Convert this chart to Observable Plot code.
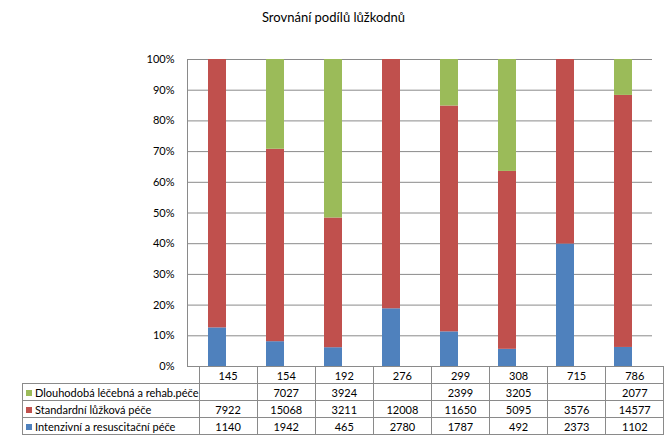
<!DOCTYPE html>
<html><head><meta charset="utf-8">
<script src="https://cdn.jsdelivr.net/npm/d3@7"></script>
<script src="https://cdn.jsdelivr.net/npm/@observablehq/plot@0.6"></script>
<style>
body{margin:0;background:#fff;}
#wrap{position:relative;width:667px;height:442px;font-family:Lato,"Open Sans",sans-serif;color:#000;}
#title{position:absolute;left:0;top:9px;width:667px;text-align:center;font-size:13px;}
#chart{position:absolute;left:0;top:40px;}
#tbl{position:absolute;left:22px;top:366px;border-collapse:collapse;font-size:11px;table-layout:fixed;}
#tbl td{border:1px solid #8a8a8a;padding:0;text-align:center;height:16px;line-height:15px;white-space:nowrap;overflow:hidden;}
#tbl td.lab{text-align:left;padding-left:3px;}
#tbl td.blank{border:none;}
.key{display:inline-block;width:6px;height:6px;margin-right:3px;vertical-align:1px;}
</style></head>
<body>
<div id="wrap">
<div id="title">Srovnání podílů lůžkodnů</div>
<div id="chart"></div>
<table id="tbl"></table>
</div>
<script>
const categories = ["145","154","192","276","299","308","715","786"];
const seriesNames = ["Intenzivní a resuscitační péče","Standardní lůžková péče","Dlouhodobá léčebná a rehab.péče"];
const seriesColors = ["#4F81BD","#C0504D","#9BBB59"];
const intenzivni = [1140,1942,465,2780,1787,492,2373,1102];
const standardni = [7922,15068,3211,12008,11650,5095,3576,14577];
const dlouhodoba = [null,7027,3924,null,2399,3205,null,2077];
const yTicks = [0,0.1,0.2,0.3,0.4,0.5,0.6,0.7,0.8,0.9,1];

const seriesValues = [intenzivni, standardni, dlouhodoba];
const rows = [];
seriesValues.forEach((vals, s) => {
  vals.forEach((v, i) => {
    if (v != null) rows.push({cat: categories[i], series: seriesNames[s], value: v, order: s});
  });
});

const chart = Plot.plot({
  width: 667,
  height: 336,
  marginTop: 19,
  marginBottom: 10,
  marginLeft: 187,
  marginRight: 15,
  style: {fontFamily: "Lato, 'Open Sans', sans-serif", fontSize: "11px", color: "#000"},
  x: {domain: categories, paddingInner: 0.69, paddingOuter: 0.345, axis: null},
  y: {domain: [0, 1], label: null},
  color: {domain: seriesNames, range: seriesColors},
  marks: [
    Plot.gridY(yTicks, {stroke: "#8a8a8a", strokeOpacity: 1}),
    Plot.frame({anchor: "left", stroke: "#8a8a8a"}),
    Plot.barY(rows, Plot.stackY({
      x: "cat", y: "value", fill: "series",
      offset: "normalize", order: seriesNames
    })),
    Plot.axisY(yTicks, {tickFormat: d3.format(".0%"), tickSize: 0, tickPadding: 13, fontSize: 11, label: null})
  ]
});
document.getElementById("chart").appendChild(chart);

// data table
const tbl = d3.select("#tbl");
const colgroup = tbl.append("colgroup");
colgroup.append("col").style("width", "165px");
categories.forEach(() => colgroup.append("col").style("width", "58.1px"));
const head = tbl.append("tr");
head.append("td").attr("class", "blank");
categories.forEach(c => head.append("td").text(c));
[2, 1, 0].forEach(s => {
  const tr = tbl.append("tr");
  const lab = tr.append("td").attr("class", "lab");
  lab.append("span").attr("class", "key").style("background", seriesColors[s]);
  lab.append("span").text(seriesNames[s]);
  seriesValues[s].forEach(v => tr.append("td").text(v == null ? "" : v));
});
</script>
</body></html>
